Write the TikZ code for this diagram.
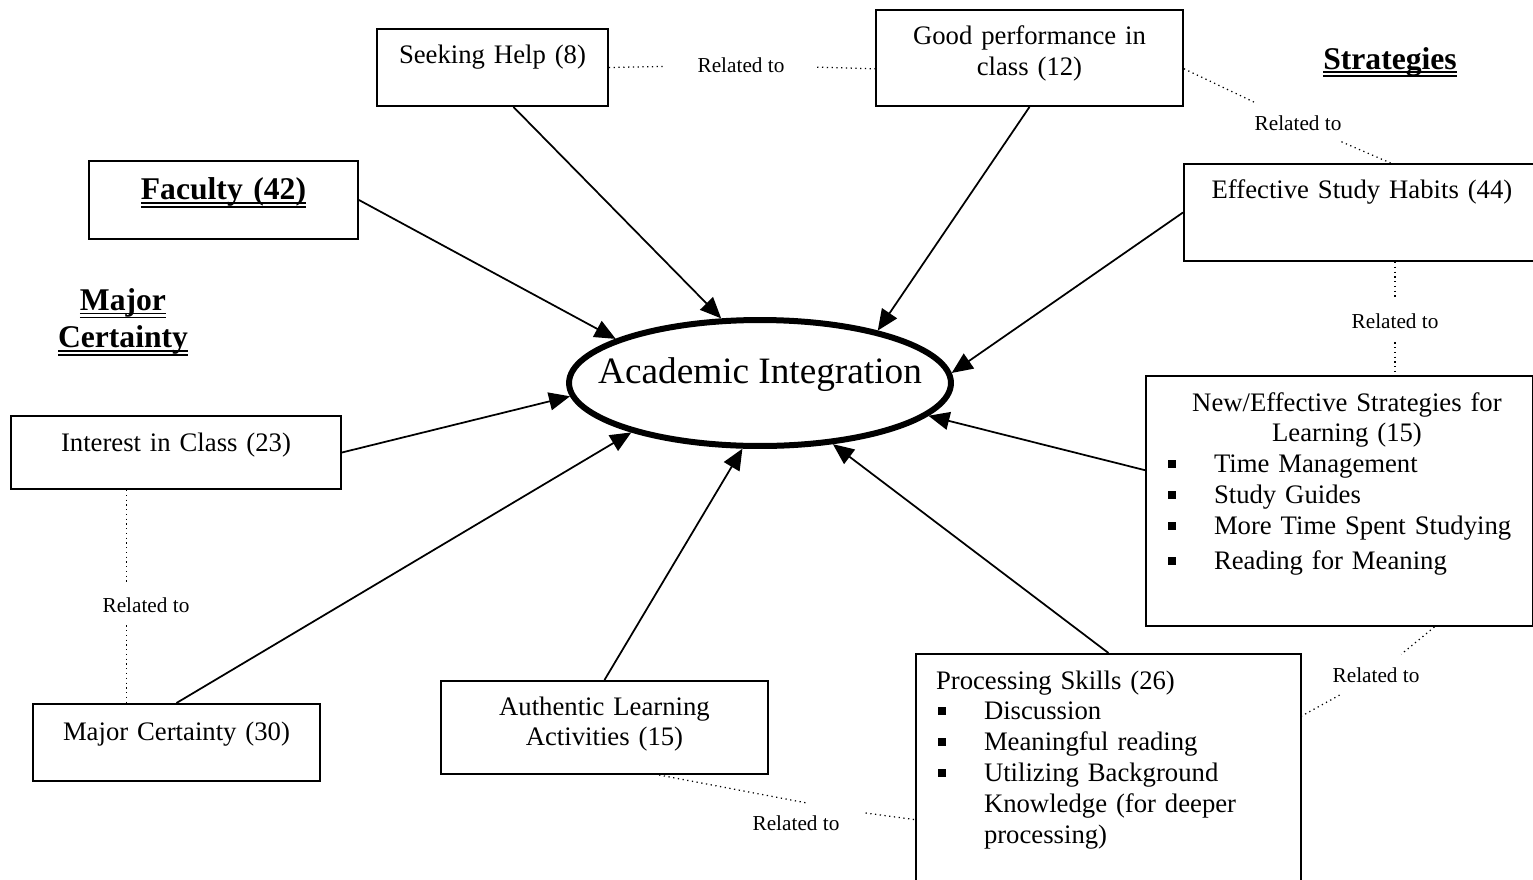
\documentclass[tikz,border=0pt]{standalone}
\usepackage{fontspec}
\setmainfont{Liberation Serif}
\usetikzlibrary{arrows.meta,shapes.geometric}

% square bullet for the lists
\newcommand{\sqbul}{\makebox[0.96cm][l]{\hspace{0.04cm}\rule[0.1cm]{0.16cm}{0.16cm}}}
% double underline for the headings
\newcommand{\dblul}[1]{\setbox0\hbox{#1}\rlap{\rule[-2.1pt]{\wd0}{0.8pt}}\rlap{\rule[-4.4pt]{\wd0}{0.8pt}}\box0}

\tikzset{
  box/.style={draw, line width=0.04cm, anchor=north west, inner sep=0pt, align=center,
    font=\fontsize{15.2}{17.6}\selectfont},
  listbox/.style={box, inner xsep=0.4cm, align=left},
  heading/.style={font=\fontsize{18}{21.5}\selectfont\bfseries, align=center},
  rel/.style={font=\fontsize{12.1}{14}\selectfont, inner sep=0.1cm},
  relline/.style={dotted, line width=0.025cm},
  toai/.style={line width=0.035cm, -{Triangle[length=0.42cm,width=0.36cm]}},
}

\begin{document}
\begin{tikzpicture}[x=0.02cm, y=-0.02cm]
  \useasboundingbox (0,0) rectangle (1533,879);

  % centre
  \node[ellipse, draw, line width=0.12cm, inner sep=0pt, minimum width=7.64cm, minimum height=2.52cm,
        text height=0.3cm, text depth=0.3cm, font=\fontsize{21.2}{25}\selectfont]
        (ai) at (760,383) {\makebox[0pt]{Academic Integration}};

  % headings
  \node[heading] (hstrat) at (1390,62) {\dblul{Strategies}};
  \node[heading] (hmajor) at (123,322) {\dblul{Major}\\ \dblul{Certainty}};

  % boxes
  \node[box, text width=4.62cm, text height=0.70cm, text depth=0.84cm] (seek) at (376,28) {Seeking Help (8)};
  \node[box, text width=6.14cm, text height=0.70cm, text depth=1.22cm] (goodperf) at (875,9) {Good performance in\\ class (12)};
  \node[box, text width=5.38cm, text height=0.78cm, text depth=0.78cm,
        font=\fontsize{18}{21.5}\selectfont\bfseries] (faculty) at (88,160) {\dblul{Faculty (42)}};
  \node[box, text width=7.12cm, text height=0.70cm, text depth=1.24cm] (habits) at (1183,163) {Effective Study Habits (44)};
  \node[listbox, text width=6.94cm, text height=0.70cm, text depth=4.30cm] (newstrat) at (1145,375) {%
    \makebox[6.94cm]{\hspace{0.3cm}New/Effective Strategies for}\\
    \makebox[6.94cm]{\hspace{0.3cm}Learning (15)}\\
    \sqbul Time Management\\
    \sqbul Study Guides\\
    \sqbul More Time Spent Studying\\[0.08cm]
    \sqbul Reading for Meaning};
  \node[box, text width=6.60cm, text height=0.70cm, text depth=0.76cm] (interest) at (10,415) {Interest in Class (23)};
  \node[box, text width=5.74cm, text height=0.72cm, text depth=0.82cm] (majorc) at (32,703) {Major Certainty (30)};
  \node[box, text width=6.54cm, text height=0.68cm, text depth=1.18cm] (authentic) at (440,680) {Authentic Learning\\ Activities (15)};
  \node[listbox, text width=6.90cm, text height=0.70cm, text depth=4.14cm] (procskills) at (915,653) {%
    Processing Skills (26)\\
    \sqbul Discussion\\
    \sqbul Meaningful reading\\
    \sqbul Utilizing Background\\
    \hspace*{0.96cm}Knowledge (for deeper\\
    \hspace*{0.96cm}processing)};

  % related to labels
  \node[rel] (rel1) at (741,65) {Related to};
  \node[rel] (rel2) at (1298,123) {Related to};
  \node[rel] (rel3) at (1395,321) {Related to};
  \node[rel] (rel4) at (1376,675) {Related to};
  \node[rel] (rel5) at (796,823) {Related to};
  \node[rel] (rel6) at (146,605) {Related to};

  % dotted links
  \draw[relline, shorten >=0.55cm] (seek.east) -- (rel1);
  \draw[relline, shorten <=0.55cm] (rel1) -- (goodperf.184);
  \draw[relline, shorten >=0.37cm] (goodperf.-4) -- (rel2);
  \draw[relline, shorten <=0.3cm] (rel2) -- (habits.60);
  \draw[relline, shorten >=0.17cm] (rel3 |- habits.south) -- (rel3);
  \draw[relline, shorten <=0.17cm] (rel3) -- (rel3 |- newstrat.north);
  \draw[relline, shorten >=0.25cm] (newstrat.-53) -- (rel4);
  \draw[relline, shorten <=0.3cm] (rel4) -- (procskills.17);
  \draw[relline, shorten >=0.8cm] (authentic.-41) -- (rel5.north east);
  \draw[relline, shorten <=0.42cm] (rel5.north east) -- (procskills.193);
  \draw[relline, shorten >=0.15cm] (interest.217) -- (interest.217 |- rel6.north);
  \draw[relline, shorten <=0.15cm] (interest.217 |- rel6.south) -- (interest.217 |- majorc.north);

  % arrows into the centre
  \draw[toai] (seek.-62) -- (ai.121);
  \draw[toai] (goodperf.south) -- (ai.24);
  \draw[toai] (faculty.east) -- (ai.163);
  \draw[toai] (habits.west) -- (ai.3);
  \draw[toai] (newstrat.171) -- (ai.-11);
  \draw[toai] (interest.east) -- (ai.184);
  \draw[toai] (majorc.north) -- (ai.201);
  \draw[toai] (authentic.north) -- (ai.255);
  \draw[toai] (procskills.north) -- (ai.320);
\end{tikzpicture}
\end{document}
